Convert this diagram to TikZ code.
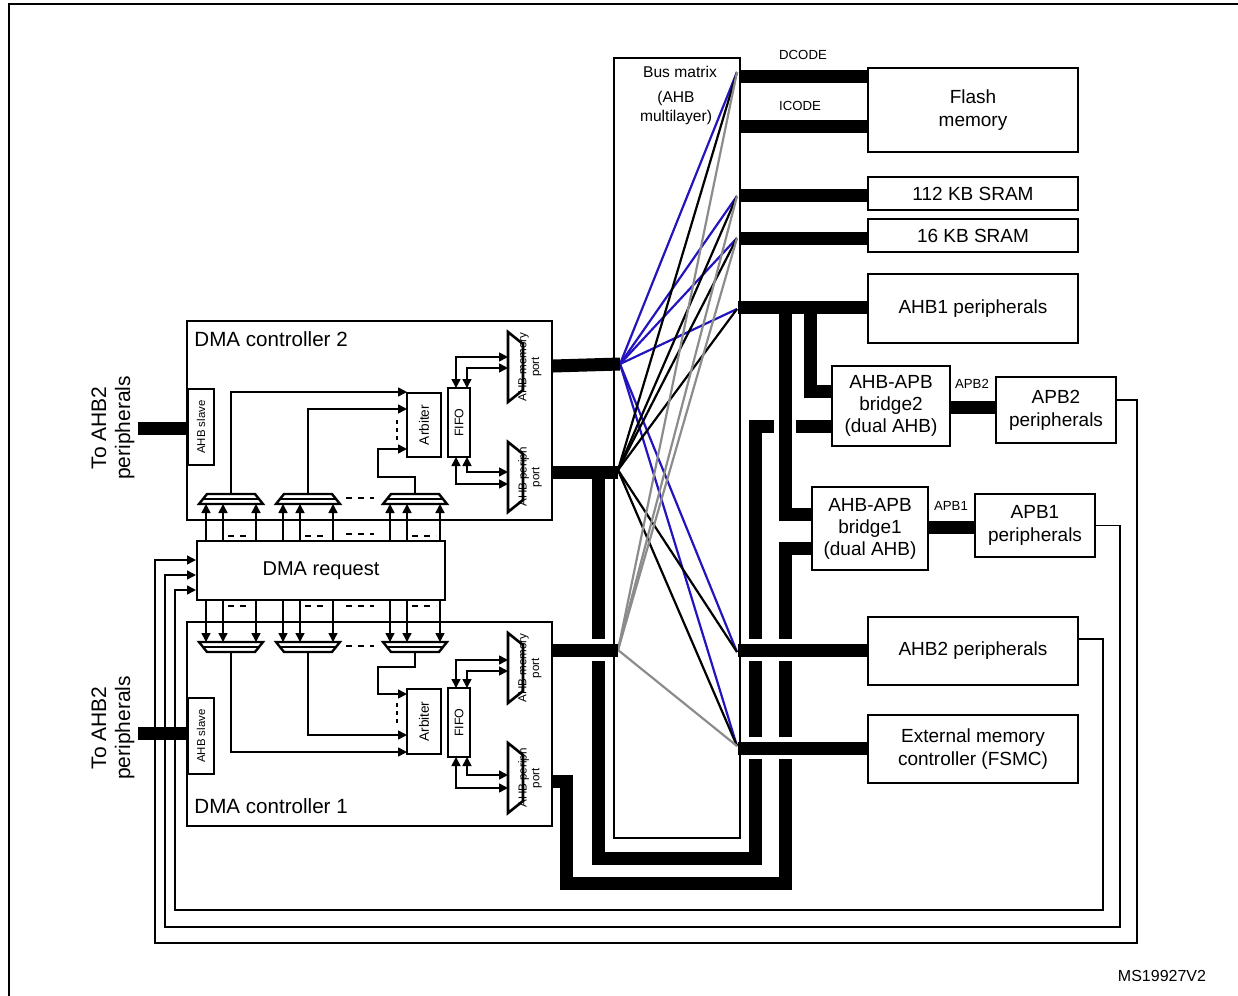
\documentclass[tikz,border=0pt]{standalone}
\usepackage{fontspec}
\setmainfont{Liberation Sans}
\usetikzlibrary{arrows.meta}
\definecolor{mxblue}{RGB}{35,20,190}
\definecolor{mxgray}{RGB}{140,140,140}
\tikzset{box/.style={draw, line width=1.2pt, inner sep=0pt, outer sep=0pt, align=center, font=\fontsize{9.5}{11.5}\selectfont},
bus/.style={line width=6.5pt, line join=miter},
halo/.style={white, line width=11pt},
sig/.style={line width=0.8pt, -{Triangle[length=4.5pt,width=4.5pt]}},
bidir/.style={line width=0.8pt, {Triangle[length=4.5pt,width=4.5pt]}-{Triangle[length=4.5pt,width=4.5pt]}},
ml/.style={line width=1.1pt},
dsh/.style={line width=0.9pt, dash pattern=on 3pt off 3pt},
lbl/.style={font=\fontsize{6.6}{7}\selectfont, inner sep=0pt},
tiny/.style={font=\fontsize{5.8}{6.3}\selectfont, align=center, inner sep=0pt}}

\begin{document}
\begin{tikzpicture}[x=0.5pt,y=-0.5pt]
    \useasboundingbox (0,0) rectangle (1238,996);
    \draw[line width=1.1pt] (1238,4) -- (9,4) -- (9,996);

    % memories and peripherals
    \node[box, minimum width=105pt, minimum height=42pt] (flash) at (973,110) {Flash\\memory};
    \node[box, minimum width=105pt, minimum height=16.5pt] (sram1) at (973,193.5) {112 KB SRAM};
    \node[box, minimum width=105pt, minimum height=16.5pt] (sram2) at (973,235.5) {16 KB SRAM};
    \node[box, minimum width=105pt, minimum height=34.5pt] (ahb1) at (973,308.5) {AHB1 peripherals};
    \node[box, minimum width=59pt, minimum height=40pt, font=\fontsize{9.5}{11}\selectfont] (br2) at (891,406) {AHB-APB\\bridge2\\(dual AHB)};
    \node[box, minimum width=60pt, minimum height=33pt] (apb2) at (1056,410) {APB2\\peripherals};
    \node[box, minimum width=58pt, minimum height=41.5pt, font=\fontsize{9.5}{11}\selectfont] (br1) at (870,528.5) {AHB-APB\\bridge1\\(dual AHB)};
    \node[box, minimum width=60pt, minimum height=31.5pt] (apb1) at (1035,525.5) {APB1\\peripherals};
    \node[box, minimum width=105pt, minimum height=34pt] (ahb2) at (973,651) {AHB2 peripherals};
    \node[box, minimum width=105pt, minimum height=34pt] (ext) at (973,749) {External memory\\controller (FSMC)};

    % bus matrix
    \node[box, minimum width=63pt, minimum height=390pt] (bm) at (677,448) {};
    \node[font=\fontsize{7.8}{9.5}\selectfont] (bmt) at (680,72) {Bus matrix};
    \node[font=\fontsize{7.8}{9.5}\selectfont, align=center] (bms) at (676,108) {(AHB\\multilayer)};

    % DMA controllers
    \node[box, minimum width=182.5pt, minimum height=99.5pt] (dma2) at (369.5,420.5) {};
    \node[box, minimum width=182.5pt, minimum height=102pt] (dma1) at (369.5,724) {};
    \node[anchor=west, inner sep=0pt, font=\fontsize{10.3}{12}\selectfont] (dma2t) at (194,339) {DMA controller 2};
    \node[anchor=west, inner sep=0pt, font=\fontsize{10.3}{12}\selectfont] (dma1t) at (194,806) {DMA controller 1};
    \node[box, minimum width=124pt, minimum height=29.5pt, font=\fontsize{10}{12}\selectfont] (req) at (321,570.5) {DMA request};
    \node[box, rotate=90, minimum width=38pt, minimum height=13pt, font=\fontsize{5.7}{6}\selectfont] (slv2) at (201,427) {AHB slave};
    \node[box, rotate=90, minimum width=38pt, minimum height=13pt, font=\fontsize{5.7}{6}\selectfont] (slv1) at (201,736) {AHB slave};
    \node[box, rotate=90, minimum width=32pt, minimum height=17pt, font=\fontsize{6.8}{7}\selectfont] (arb2) at (424,425) {Arbiter};
    \node[box, rotate=90, minimum width=32.5pt, minimum height=17pt, font=\fontsize{6.8}{7}\selectfont] (arb1) at (424,721.5) {Arbiter};
    \node[box, rotate=90, minimum width=34.5pt, minimum height=11pt, font=\fontsize{6.2}{7}\selectfont] (fifo2) at (459,422.5) {FIFO};
    \node[box, rotate=90, minimum width=34.5pt, minimum height=11pt, font=\fontsize{6.2}{7}\selectfont] (fifo1) at (459,722.5) {FIFO};
    \node[rotate=90, align=center, font=\fontsize{10.5}{12}\selectfont] (to2) at (113,428) {To AHB2\\peripherals};
    \node[rotate=90, align=center, font=\fontsize{10.5}{12}\selectfont] (to1) at (113,728) {To AHB2\\peripherals};

    % ports
    \foreach \t in {332,442,633,743}
    \draw[line width=1.3pt] (508,\t) -- (523,\t+12) -- (523,\t+58) -- (508,\t+70) -- cycle;
    \node[tiny, rotate=90] (pm2) at (530,367) {AHB memory\\port};
    \node[tiny, rotate=90] (pp2) at (530,477) {AHB periph\\port};
    \node[tiny, rotate=90] (pm1) at (530,668) {AHB memory\\port};
    \node[tiny, rotate=90] (pp1) at (530,778) {AHB periph\\port};

    % muxes and request lines
    \foreach \mx in {231,308,415} {
      \draw[line width=1.2pt] (\mx-32,504) -- (\mx-24,494) -- (\mx+24,494) -- (\mx+32,504) -- cycle;
      \draw[line width=0.9pt] (\mx-28,499) -- (\mx+28,499);
      \draw[line width=1.2pt] (\mx-32,642) -- (\mx-24,652) -- (\mx+24,652) -- (\mx+32,642) -- cycle;
      \draw[line width=0.9pt] (\mx-28,647) -- (\mx+28,647);
      \foreach \d in {-25,-8,25} {
        \draw[sig] (\mx+\d,541) -- (\mx+\d,504);
        \draw[sig] (\mx+\d,600) -- (\mx+\d,642);
      }
      \draw[dsh] (\mx-3,536) -- (\mx+21,536);
      \draw[dsh] (\mx-3,606) -- (\mx+21,606);
    }
    \draw[dsh] (346,498) -- (374,498);
    \draw[dsh] (346,534) -- (374,534);
    \draw[dsh] (346,606) -- (374,606);
    \draw[dsh] (346,646) -- (374,646);

    % to arbiters
    \draw[sig] (231,494) |- (arb2.north |- 0,392);
    \draw[sig] (308,494) |- (407,409);
    \draw[sig] (415,494) -- (415,477) -| (378,449) -- (407,449);
    \draw[sig] (231,652) |- (407,752);
    \draw[sig] (308,652) |- (407,735);
    \draw[sig] (415,652) -- (415,667) -| (378,694) -- (407,694);
    \draw[line width=1pt, dash pattern=on 2pt off 2pt] (397,420) -- (397,442);
    \draw[line width=1pt, dash pattern=on 2pt off 2pt] (397,703) -- (397,725);

    % fifo to ports
    \draw[bidir] (456,388) |- (508,357);
    \draw[bidir] (467,388) |- (508,368);
    \draw[bidir] (467,457) |- (508,472);
    \draw[bidir] (456,457) |- (508,484);
    \draw[bidir] (456,688) |- (508,660);
    \draw[bidir] (467,688) |- (508,671);
    \draw[bidir] (467,757) |- (508,775);
    \draw[bidir] (456,757) |- (508,788);

    % matrix crossings
    \coordinate (mM2) at (620,364);
    \coordinate (mP2) at (618,470);
    \coordinate (mM1) at (618,650);
    \coordinate (tD) at (737,72);
    \coordinate (tS1) at (737,196);
    \coordinate (tS2) at (737,238);
    \coordinate (tA1) at (737,309);
    \coordinate (tA2) at (737,652);
    \coordinate (tEx) at (737,746);
    \foreach \t in {tD,tS1,tS2,tA1,tA2,tEx}
    \draw[ml, mxblue] (mM2) -- (\t);
    \foreach \t in {tD,tS1,tS2,tA1,tA2,tEx}
    \draw[ml] (mP2) -- (\t);
    \foreach \t in {tD,tS1,tS2,tEx}
    \draw[ml, mxgray] (mM1) -- (\t);

    % buses
    \draw[bus] (740,76) -- (868,76);
    \draw[bus] (740,126) -- (868,126);
    \draw[bus] (740,195) -- (868,195);
    \draw[bus] (740,238) -- (868,238);
    \draw[bus] (738,307) -- (ahb1.west |- 0,307);
    \draw[bus] (950,407) -- (996,407);
    \draw[bus] (928,527) -- (975,527);
    \draw[bus] (138,428) -- (188,428);
    \draw[bus] (138,733) -- (188,733);
    \draw[bus] (553,366) -- (mM2);
    \draw[bus] (553,472) -- (618,472);
    \draw[bus] (598,472) -- (598,858) -- (755,858) -- (755,426) -- (832,426);
    \draw[bus] (553,781) -- (566,781) -- (566,883) -- (785,883) -- (785,548) -- (812,548);
    \draw[bus] (810,307) -- (810,391) -- (832,391);
    \draw[bus] (785,307) -- (785,514) -- (812,514);
    \draw[halo] (785,418) -- (785,434);
    \draw[bus] (785,410) -- (785,440);
    \draw[halo] (586,650) -- (610,650);
    \draw[bus] (553,650) -- (618,650);
    \draw[halo] (744,650) -- (800,650);
    \draw[bus] (738,650) -- (868,650);
    \draw[halo] (744,748) -- (800,748);
    \draw[bus] (738,748) -- (868,748);

    % return lines
    \draw[sig] ([yshift=5pt]apb2.east) -| (1137,943) -| (155,560) -- (196,560);
    \draw[sig] (apb1.east) -| (1120,927) -| (165,575) -- (196,575);
    \draw[sig] ([yshift=6pt]ahb2.east) -| (1103,910) -| (175,590) -- (196,590);

    \node[lbl] (dc) at (803,55) {DCODE};
    \node[lbl] (ic) at (800,106) {ICODE};
    \node[lbl] (p2) at (972,384) {APB2};
    \node[lbl] (p1) at (951,506) {APB1};
    \node[font=\fontsize{8}{9}\selectfont] (ms) at (1162,976) {MS19927V2};
\end{tikzpicture}
\end{document}
